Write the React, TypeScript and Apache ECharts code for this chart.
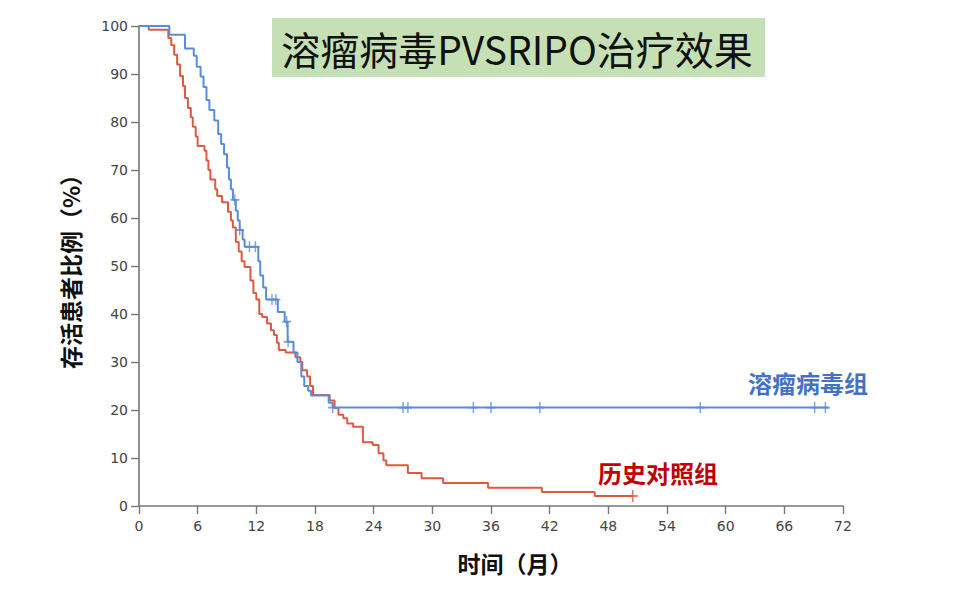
import { useEffect, useRef } from 'react';
import * as echarts from 'echarts';

// Kaplan-Meier steps: [month, survival %] — survival becomes this value at that month
const virusSteps: [number, number][] = [
  [0, 100], [3.1, 98.2], [4.7, 95.3], [5.6, 93.8], [5.9, 91.5], [6.3, 89.5],
  [6.6, 87.3], [6.9, 84.6], [7.2, 82.5], [7.7, 80.3], [8.1, 77.5], [8.4, 75.4],
  [8.7, 73.3], [9.0, 70.5], [9.2, 68], [9.4, 66], [9.6, 63.8], [9.9, 61.5],
  [10.1, 59.5], [10.3, 57.5], [10.6, 55.5], [10.8, 54], [12.2, 51], [12.4, 48],
  [12.7, 45.5], [13.0, 43], [14.2, 40.4], [14.9, 38.4], [15.2, 34.2], [15.8, 32],
  [16.2, 30], [16.6, 27], [16.9, 25], [17.3, 24], [17.6, 23], [19.4, 21.5],
  [19.8, 20.5], [70.5, 20.5],
];

const controlSteps: [number, number][] = [
  [0, 100], [1.0, 99.2], [3.0, 97.5], [3.3, 96], [3.6, 94], [3.9, 92], [4.2, 89.6],
  [4.5, 87.5], [4.7, 85], [5.0, 82.9], [5.3, 81], [5.5, 79], [5.8, 77], [6.0, 75],
  [6.7, 74], [6.9, 72], [7.1, 70], [7.3, 68], [7.8, 66], [8.0, 64.6], [8.5, 63.3],
  [9.1, 61.3], [9.4, 59.5], [9.6, 58], [9.9, 55], [10.2, 53], [10.5, 51],
  [10.8, 49.8], [11.4, 47], [11.7, 44.4], [12.0, 43], [12.3, 40], [12.6, 39.4],
  [13.1, 38], [13.5, 36.6], [13.8, 35.6], [14.1, 34], [14.3, 32.5], [15.0, 32],
  [16.0, 31], [16.5, 30], [16.7, 28.3], [17.2, 27], [17.5, 25], [17.8, 23.1],
  [19.5, 22], [20.0, 20.4], [20.4, 19], [20.9, 18.3], [21.3, 17.2], [21.9, 16.5],
  [22.9, 13.3], [23.9, 12.7], [24.5, 11], [25.0, 9.5], [25.3, 8.5], [27.5, 6.9],
  [28.9, 5.8], [31.1, 4.8], [35.7, 3.8], [41.2, 2.9], [46.6, 2.1], [50.5, 2.1],
];

// censored observations (+ marks)
const virusCensored: [number, number][] = [
  [9.8, 63.8], [10.3, 57.5], [11.3, 54], [11.9, 54], [13.6, 43], [14.0, 43],
  [15.1, 38.4], [15.25, 34.2], [19.8, 20.5], [27.0, 20.5], [27.5, 20.5],
  [34.2, 20.5], [36.0, 20.5], [41.0, 20.5], [57.4, 20.5], [69.1, 20.5], [70.2, 20.5],
];
const controlCensored: [number, number][] = [[50.5, 2.1]];

const xMax = 72;
const xStep = 6;
const yMax = 100;
const yStep = 10;

const titleText = '溶瘤病毒PVSRIPO治疗效果';
const virusLabel = '溶瘤病毒组';
const controlLabel = '历史对照组';
const xName = '时间（月）';
const yName = '存活患者比例（%）';

const BLUE = '#5b8cd6';
const RED = '#dc5a40';
const PLUS = 'path://M4.2,0H5.8V4.2H10V5.8H5.8V10H4.2V5.8H0V4.2H4.2Z';
const CJK = '"Noto Sans CJK SC", sans-serif';

export default function App() {
  const ref = useRef<HTMLDivElement>(null);

  useEffect(() => {
    if (!ref.current) return;
    const chart = echarts.init(ref.current, undefined, { renderer: 'svg' });

    const axisCommon = {
      axisLine: { lineStyle: { color: '#777', width: 1.6 } },
      axisTick: { length: 8, lineStyle: { color: '#777', width: 1.4 } },
      axisLabel: { color: '#444', fontSize: 14, fontFamily: '"DejaVu Sans", sans-serif' },
      splitLine: { show: false },
    };

    chart.setOption({
      animation: false,
      backgroundColor: '#fff',
      grid: { left: 139, right: 117, top: 26, bottom: 83 },
      xAxis: {
        type: 'value',
        min: 0,
        max: xMax,
        interval: xStep,
        ...axisCommon,
        axisLabel: { ...axisCommon.axisLabel, margin: 13 },
      },
      yAxis: {
        type: 'value',
        min: 0,
        max: yMax,
        interval: yStep,
        ...axisCommon,
        axisLabel: { ...axisCommon.axisLabel, margin: 11 },
      },
      series: [
        {
          type: 'line',
          step: 'end',
          data: controlSteps,
          showSymbol: false,
          lineStyle: { color: RED, width: 2 },
          z: 2,
        },
        {
          type: 'line',
          step: 'end',
          data: virusSteps,
          showSymbol: false,
          lineStyle: { color: BLUE, width: 2 },
          z: 3,
        },
        {
          type: 'scatter',
          data: controlCensored,
          symbol: PLUS,
          symbolSize: [10, 12],
          itemStyle: { color: RED },
          z: 4,
        },
        {
          type: 'scatter',
          data: virusCensored,
          symbol: PLUS,
          symbolSize: [9, 11],
          itemStyle: { color: BLUE },
          z: 5,
        },
      ],
      graphic: [
        {
          type: 'rect',
          shape: { x: 272, y: 18, width: 493, height: 59 },
          style: { fill: '#c6e0b5' },
          z: 10,
        },
        {
          type: 'text',
          x: 517,
          y: 48,
          style: {
            text: titleText,
            fontSize: 39,
            fontFamily: CJK,
            fill: '#111',
            align: 'center',
            verticalAlign: 'middle',
          },
          z: 11,
        },
        {
          type: 'text',
          x: 748,
          y: 382,
          style: {
            text: virusLabel,
            fontSize: 24,
            fontWeight: 'bold',
            fontFamily: CJK,
            fill: '#4472c4',
            verticalAlign: 'middle',
          },
          z: 11,
        },
        {
          type: 'text',
          x: 598,
          y: 472,
          style: {
            text: controlLabel,
            fontSize: 24,
            fontWeight: 'bold',
            fontFamily: CJK,
            fill: '#c00000',
            verticalAlign: 'middle',
          },
          z: 11,
        },
        {
          type: 'text',
          x: 515,
          y: 563,
          style: {
            text: xName,
            fontSize: 23,
            fontWeight: 'bold',
            fontFamily: CJK,
            fill: '#111',
            align: 'center',
            verticalAlign: 'middle',
          },
          z: 11,
        },
        {
          type: 'text',
          x: 70,
          y: 266,
          rotation: Math.PI / 2,
          style: {
            text: yName,
            fontSize: 23,
            fontWeight: 'bold',
            fontFamily: CJK,
            fill: '#111',
            align: 'center',
            verticalAlign: 'middle',
          },
          z: 11,
        },
      ],
    });

    return () => chart.dispose();
  }, []);

  return (
    <div
      ref={ref}
      style={{ position: 'fixed', left: 0, top: 0, width: 960, height: 589, background: '#fff' }}
    />
  );
}
